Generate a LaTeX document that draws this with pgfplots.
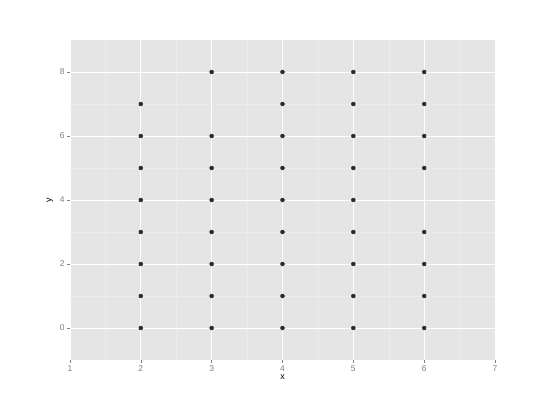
\documentclass[border=0pt]{standalone}
\usepackage{pgfplots}
\pgfplotsset{compat=1.18}
\usepackage{fontspec}
\setmainfont{Liberation Sans}
\definecolor{panel}{HTML}{E5E5E5}
\definecolor{minorgrid}{HTML}{EBEBEB}
\definecolor{ticklab}{HTML}{7F7F7F}
\definecolor{pt}{HTML}{2B2B2B}
\begin{document}
\begin{tikzpicture}[x=1bp,y=1bp]
\path (0,0) rectangle (550,400); % page size
\begin{axis}[
at={(70bp,40bp)}, anchor=south west,
scale only axis, width=425bp, height=320bp,
xmin=1, xmax=7, ymin=-1, ymax=9,
xtick={1,...,7}, ytick={0,2,4,6,8},
minor xtick={1.5,2.5,...,6.5}, minor ytick={1,3,5,7},
grid=both,
major grid style={white, line width=0.9bp},
minor grid style={minorgrid, line width=0.5bp},
axis background/.style={fill=panel},
axis line style={draw=none},
tick style={ticklab, line width=0.5bp},
major tick length=3bp, minor tick length=0pt,
tick align=outside, tick pos=left,
/pgf/number format/assume math mode=true,
ticklabel style={font=\fontsize{8.5}{9}\selectfont, text=ticklab},
xticklabel style={yshift=1bp},
yticklabel style={xshift=1bp},
xlabel={x}, ylabel={y},
label style={font=\fontsize{9}{10}\selectfont},
xlabel style={at={(axis description cs:0.5,0)}, anchor=center, yshift=-17bp},
ylabel style={at={(axis description cs:0,0.5)}, anchor=center, yshift=20bp},
]
\addplot[only marks, mark=*, mark size=2bp, color=pt] table {
x y
2 0
2 1
2 2
2 3
2 4
2 5
2 6
2 7
3 0
3 1
3 2
3 3
3 4
3 5
3 6
3 8
4 0
4 1
4 2
4 3
4 4
4 5
4 6
4 7
4 8
5 0
5 1
5 2
5 3
5 4
5 5
5 6
5 7
5 8
6 0
6 1
6 2
6 3
6 5
6 6
6 7
6 8
};
\end{axis}
\end{tikzpicture}
\end{document}
